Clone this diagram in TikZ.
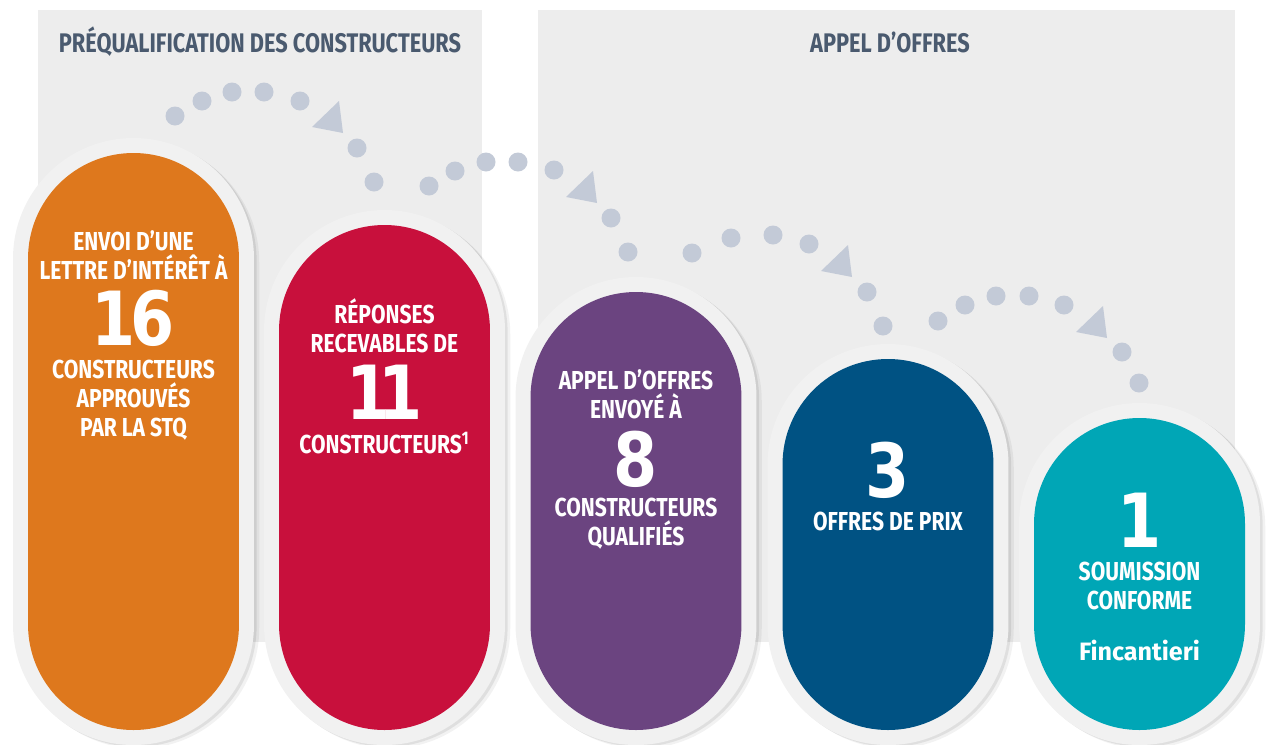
\documentclass[tikz,border=0pt]{standalone}
\usepackage{fontspec}
\usepackage{tikz}
\usetikzlibrary{positioning,shadows}
\setmainfont{Fira Sans}
\newfontfamily\condfont[FakeStretch=0.81]{Fira Sans}
\newfontfamily\numfont[FakeStretch=0.85]{DejaVu Sans}
\definecolor{panelgray}{HTML}{EDEDED}
\definecolor{halogray}{HTML}{F1F1F1}
\definecolor{dotgray}{HTML}{C3CAD7}
\definecolor{titleslate}{HTML}{4A5A6F}
\definecolor{orangestq}{HTML}{DE781D}
\definecolor{redstq}{HTML}{C8103C}
\definecolor{purplestq}{HTML}{6B4480}
\definecolor{bluestq}{HTML}{005283}
\definecolor{tealstq}{HTML}{00A6B6}

\begin{document}
\begin{tikzpicture}
        [x=0.02cm,y=-0.02cm,
         panel/.style={fill=panelgray},
         halo/.style={rectangle,rounded corners=2.41cm,minimum width=4.82cm,inner sep=0,fill=halogray,
                      drop shadow={shadow xshift=1.5pt,shadow yshift=-1pt,opacity=.08,fill=black},
                      drop shadow={shadow xshift=3pt,shadow yshift=-2pt,opacity=.05,fill=black}},
         pill/.style={rectangle,rounded corners=2.11cm,minimum width=4.22cm,inner sep=0},
         lbl/.style={text=white,font=\condfont\bfseries\fontsize{14.8}{16.4}\selectfont,align=center,inner sep=0},
         num/.style={text=white,font=\numfont\bfseries\fontsize{42.5}{43}\selectfont,inner sep=0},
         fin/.style={text=white,font=\bfseries\fontsize{14.3}{16}\selectfont,inner sep=0},
         title/.style={text=titleslate,font=\condfont\bfseries\fontsize{15.3}{16}\selectfont,inner sep=0},
         dot/.style={fill=dotgray}]
        \useasboundingbox (0,0) rectangle (1270,744);
        % panneaux
        \fill[panel] (38,10) rectangle (482,642);
        \fill[panel] (538,10) rectangle (1235,642);
        \node[title](prequal) at (260,42){PRÉQUALIFICATION DES CONSTRUCTEURS};
        \node[title](appeloffres) at (890,42){APPEL D’OFFRES};
        % pointilles
        \foreach \px/\py in {175/116,202/101,232/92,264/92,300/101,357/148,374/182,
                             429/186,455/171,486/162,518/162,554/170,611/218,628/252,
                             692/253,731/238,773/235,809/244,867/292,883/326,
                             938/321,965/305,996/296,1029/296,1064/305,1122/352,1139/383}
            \fill[dot] (\px,\py) circle[radius=9.5];
        \foreach \dx/\dy in {0/0,254/70,509/144,764/205}
            \fill[dot] ({312+\dx},{127+\dy}) -- ({339+\dx},{101+\dy}) -- ({343+\dx},{133+\dy}) -- cycle;
        % pastilles
        \foreach \cx/\t/\col/\nm in {133.5/153/orangestq/envoi,384.5/225/redstq/reponses,
                                     636/292/purplestq/appel,888/359/bluestq/offres,
                                     1139.5/418/tealstq/soumission}{
            \node[halo,minimum height={(760-\t)*0.02cm}](\nm-halo) at (\cx,{(\t+730)/2}){};
            \node[pill,fill=\col,minimum height={(730-\t)*0.02cm}](\nm) at (\cx,{(\t+730)/2}){};
        }
        % textes
        \node[lbl,anchor=south](envoi-a) at (133.5,280){ENVOI D’UNE\\LETTRE D’INTÉRÊT À};
        \node[num](envoi-n) at (133.5,318){1\kern-0.07em 6};
        \node[lbl,anchor=north](envoi-b) at (133.5,360){CONSTRUCTEURS\\APPROUVÉS\\PAR LA STQ};
        \node[lbl,anchor=south](reponses-a) at (384.5,353){RÉPONSES\\RECEVABLES DE};
        \node[num](reponses-n) at (384.5,392){1\kern-0.16em 1};
        \node[lbl,anchor=north](reponses-b) at (384.5,432){CONSTRUCTEURS\textsuperscript{1}};
        \node[lbl,anchor=south](appel-a) at (636,419){APPEL D’OFFRES\\ENVOYÉ À};
        \node[num](appel-n) at (636,459){8};
        \node[lbl,anchor=north](appel-b) at (636,498){CONSTRUCTEURS\\QUALIFIÉS};
        \node[num](offres-n) at (888,470){3};
        \node[lbl,anchor=north](offres-b) at (888,512){OFFRES DE PRIX};
        \node[num](soumission-n) at (1139.5,520){1};
        \node[lbl,anchor=north](soumission-b) at (1139.5,562){SOUMISSION\\CONFORME};
        \node[fin,anchor=base](soumission-c) at (1139.5,660){Fincantieri};
\end{tikzpicture}
\end{document}
